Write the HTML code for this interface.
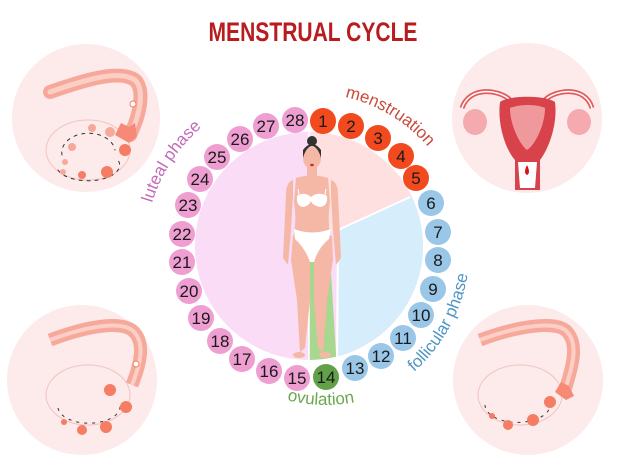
<!DOCTYPE html>
<html><head><meta charset="utf-8"><style>
html,body{margin:0;padding:0;background:#fff;}
svg{display:block;}
</style></head><body>
<svg width="626" height="470" viewBox="0 0 626 470" xmlns="http://www.w3.org/2000/svg" font-family="Liberation Sans, sans-serif">
<defs>
<clipPath id="cc"><circle cx="309" cy="246" r="114"/></clipPath>
<path id="pm" d="M 345 97 A 153 153 0 0 1 438 160"/>
<path id="pl" d="M 152 203 A 163 163 0 0 1 226 110"/>
<path id="pf" d="M 414 372 A 168 168 0 0 0 470 250"/>
<path id="po" d="M 270 395 A 160 160 0 0 0 372 398"/>
</defs>
<circle cx="86" cy="118" r="74" fill="#fdeaea"/>
<circle cx="527" cy="118" r="75" fill="#fdeaea"/>
<circle cx="82" cy="380" r="75" fill="#fdeaea"/>
<circle cx="528" cy="380" r="75" fill="#fdeaea"/>

<g fill="none" stroke-linecap="round">
<path d="M50 92 C 90 78, 120 70, 135 80 C 145 90, 140 115, 130 135" stroke="#f6a99a" stroke-width="14"/>
<path d="M50 92 C 90 78, 120 70, 135 80 C 145 90, 140 115, 130 135" stroke="#fbcfc6" stroke-width="5"/>
<ellipse cx="88" cy="150" rx="42" ry="30" stroke="#f3c3bf" stroke-width="1"/>
<path d="M62 155 A 25 18 0 1 1 115 150" stroke="#333" stroke-width="1" stroke-dasharray="3 5"/>
<path d="M58 170 A 28 14 0 0 0 118 160" stroke="#333" stroke-width="1" stroke-dasharray="3 5"/>
</g>
<g fill="#f6a99a">
<path d="M115 135 l6 -12 l8 4 l6 -4 l2 14 l-8 6z" fill="#f68a76"/>
<circle cx="65" cy="162" r="3"/><circle cx="72" cy="147" r="4"/><circle cx="92" cy="128" r="4"/><circle cx="110" cy="132" r="5"/>
<circle cx="125" cy="150" r="6" fill="#f57d63"/><circle cx="107" cy="172" r="6" fill="#f57d63"/><circle cx="82" cy="175" r="4" fill="#f57d63"/><circle cx="63" cy="172" r="3"/>
<circle cx="133" cy="104" r="3" fill="#fff" stroke="#f57d63"/>
</g>

<g>
<path d="M462 108 C 470 85, 500 90, 510 100 M592 108 C 585 85, 555 90, 545 100" fill="none" stroke="#e35a5a" stroke-width="5"/>
<path d="M462 108 C 470 85, 500 90, 510 100 M592 108 C 585 85, 555 90, 545 100" fill="none" stroke="#fff" stroke-width="1.5"/>
<ellipse cx="475" cy="122" rx="12" ry="13" fill="#f5aab0"/>
<ellipse cx="579" cy="122" rx="12" ry="13" fill="#f5aab0"/>
<path d="M500 102 C 510 95, 545 95, 555 102 C 558 125, 548 150, 540 160 L 540 190 L 515 190 L 515 160 C 506 150, 497 125, 500 102 Z" fill="#d8424a"/>
<path d="M510 108 C 520 104, 536 104, 545 108 C 545 125, 535 145, 527 150 C 520 145, 510 125, 510 108Z" fill="#f0999c"/>
<path d="M518 162 L 537 162 L 535 188 L 520 188Z" fill="#fff"/>
<path d="M527 165 q -4 8 0 10 q 4 -2 0 -10z" fill="#d8101a"/>
</g>

<g fill="none">
<path d="M50 340 C 90 325, 125 320, 135 333 C 145 345, 140 365, 132 385" stroke="#f6a99a" stroke-width="13"/>
<path d="M50 340 C 90 325, 125 320, 135 333 C 145 345, 140 365, 132 385" stroke="#fbcfc6" stroke-width="4"/>
<ellipse cx="88" cy="395" rx="42" ry="30" stroke="#f3c3bf" stroke-width="1"/>
<path d="M58 408 A 28 15 0 0 0 120 405" stroke="#333" stroke-width="1" stroke-dasharray="3 5"/>
</g>
<g fill="#f57d63"><circle cx="110" cy="390" r="6"/><circle cx="126" cy="407" r="6"/><circle cx="106" cy="427" r="6"/><circle cx="82" cy="430" r="5"/><circle cx="64" cy="422" r="3"/><circle cx="136" cy="364" r="3" fill="#fff" stroke="#f57d63"/></g>
<g fill="none">
<path d="M480 340 C 520 325, 560 320, 568 333 C 578 345, 573 365, 565 390" stroke="#f6a99a" stroke-width="13"/>
<path d="M480 340 C 520 325, 560 320, 568 333 C 578 345, 573 365, 565 390" stroke="#fbcfc6" stroke-width="4"/>
<ellipse cx="520" cy="395" rx="42" ry="30" stroke="#f3c3bf" stroke-width="1"/>
<path d="M485 405 A 28 15 0 0 0 550 405" stroke="#333" stroke-width="1" stroke-dasharray="3 5"/>
</g>
<g fill="#f57d63"><circle cx="550" cy="402" r="6"/><circle cx="533" cy="420" r="6"/><circle cx="508" cy="425" r="5"/><circle cx="492" cy="416" r="3"/><path d="M555 392 l6 -10 l8 4 l5 10 l-8 4z" fill="#f68a76"/></g>

<text x="313" y="41" text-anchor="middle" font-size="27" font-weight="bold" fill="#b81c1f" transform="translate(313 0) scale(0.78 1) translate(-313 0)">MENSTRUAL CYCLE</text>

<g clip-path="url(#cc)">
<rect x="190" y="130" width="240" height="240" fill="#fbdcf6"/>
<polygon points="309,120 440,120 440,180 410,197 338,230 309,230" fill="#fde0df"/>
<polygon points="410,197 440,180 440,370 337,370 338,230" fill="#d6edfb"/>
<polygon points="309,256 330,256 337,370 309,370" fill="#a8d890"/>
<line x1="410" y1="197" x2="338" y2="230" stroke="#fff" stroke-width="2"/>
<line x1="338" y1="230" x2="337" y2="370" stroke="#fff" stroke-width="2"/>
<line x1="309" y1="120" x2="309" y2="370" stroke="#fff" stroke-width="1.5"/>
</g>

<g fill="#f5b8a6">
<rect x="307" y="160" width="10" height="16"/>
<path d="M296 178 Q312 173 328 178 L330 202 Q327 222 331 238 L293 238 Q297 222 294 202 Z"/>
<path d="M293 180 Q286 182 286 195 L283 258 L288 265 L291 230 L293 195Z"/>
<path d="M331 180 Q338 182 338 195 L341 258 L336 265 L333 230 L331 195Z"/>
<path d="M293 236 L310 236 L310 300 L305 348 L300 352 L297 300 L291 260Z"/>
<path d="M314 236 L332 236 L333 260 L327 300 L323 352 L318 348 L314 300Z"/>
<ellipse cx="299" cy="355" rx="6" ry="3"/><ellipse cx="325" cy="355" rx="6" ry="3"/>
<ellipse cx="312" cy="158" rx="9" ry="11"/>
</g>
<path d="M303 150 Q312 138 321 150 L321 158 Q318 147 312 146 Q306 147 303 158Z" fill="#333"/>
<circle cx="312" cy="141" r="5" fill="#333"/>
<ellipse cx="312" cy="165" rx="2" ry="1.2" fill="#c33"/>
<path d="M297 196 Q304 191 311 197 Q318 191 327 196 Q328 206 320 207 Q312 205 311 201 Q309 206 303 207 Q296 206 297 196Z" fill="#fff"/>
<path d="M298 189 L299 195 M326 189 L325 195" stroke="#fff" stroke-width="1"/>
<path d="M294 229 Q312 236 331 229 L329 239 Q318 248 314 262 L310 262 Q305 248 295 239Z" fill="#fff"/>

<g font-size="17" text-anchor="middle" fill="#1a1a1a">
<g fill="#f24a1e"><circle cx="323" cy="121" r="13"/><circle cx="351" cy="126" r="13"/><circle cx="378" cy="138" r="13"/><circle cx="401" cy="156" r="13"/><circle cx="416" cy="178" r="13"/></g>
<g fill="#9ac6e8"><circle cx="431" cy="203" r="13"/><circle cx="438" cy="232" r="13"/><circle cx="438" cy="260" r="13"/><circle cx="433" cy="289" r="13"/><circle cx="421" cy="315" r="13"/><circle cx="403" cy="338" r="13"/><circle cx="381" cy="356" r="13"/><circle cx="355" cy="368" r="13"/></g>
<circle cx="326" cy="377" r="13" fill="#62a04a"/>
<g fill="#ef9ed2"><circle cx="297" cy="378" r="13"/><circle cx="269" cy="371" r="13"/><circle cx="242" cy="359" r="13"/><circle cx="220" cy="341" r="13"/><circle cx="201" cy="318" r="13"/><circle cx="189" cy="291" r="13"/><circle cx="182" cy="262" r="13"/><circle cx="182" cy="234" r="13"/><circle cx="188" cy="205" r="13"/><circle cx="200" cy="179" r="13"/><circle cx="217" cy="157" r="13"/><circle cx="240" cy="139" r="13"/><circle cx="266" cy="126" r="13"/><circle cx="295" cy="120" r="13"/></g>
<text x="323" y="127">1</text><text x="351" y="132">2</text><text x="378" y="144">3</text><text x="401" y="162">4</text><text x="416" y="184">5</text>
<text x="431" y="209">6</text><text x="438" y="238">7</text><text x="438" y="266">8</text><text x="433" y="295">9</text><text x="421" y="321">10</text><text x="403" y="344">11</text><text x="381" y="362">12</text><text x="355" y="374">13</text>
<text x="326" y="383">14</text><text x="297" y="384">15</text><text x="269" y="377">16</text><text x="242" y="365">17</text><text x="220" y="347">18</text><text x="201" y="324">19</text><text x="189" y="297">20</text><text x="182" y="268">21</text><text x="182" y="240">22</text><text x="188" y="211">23</text><text x="200" y="185">24</text><text x="217" y="163">25</text><text x="240" y="145">26</text><text x="266" y="132">27</text><text x="295" y="126">28</text>
</g>

<text font-size="17" fill="#c94b3a"><textPath href="#pm">menstruation</textPath></text>
<text font-size="17" fill="#c46ab8"><textPath href="#pl">luteal phase</textPath></text>
<text font-size="17" fill="#4f96c4"><textPath href="#pf">follicular phase</textPath></text>
<text font-size="17" fill="#6aa84f"><textPath href="#po" startOffset="50%" text-anchor="middle">ovulation</textPath></text>
</svg>
</body></html>
